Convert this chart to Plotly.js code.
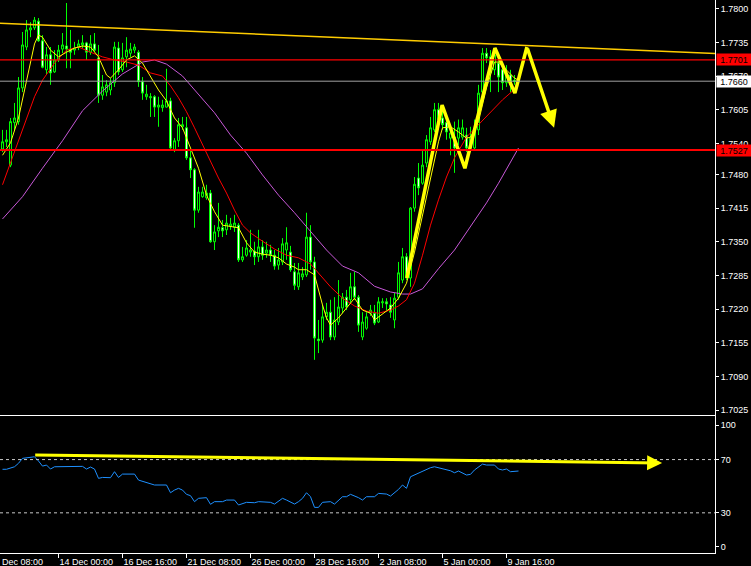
<!DOCTYPE html>
<html>
<head>
<meta charset="utf-8">
<script src="https://cdn.plot.ly/plotly-3.0.1.min.js"></script>
<style>html,body{margin:0;padding:0;background:#000;}#chart{width:751px;height:566px;}</style>
</head>
<body>
<div id="chart"></div>
<script>
// ---- H4 candles (bar index = position of the bar on the chart) ----
const open = [1.7529,1.7543,1.7498,1.7580,1.7582,1.7647,1.7726,1.7759,1.7763,1.7776,
1.7738,1.7682,1.7711,1.7678,1.7701,1.7722,1.7728,1.7722,1.7720,1.7726,
1.7730,1.7734,1.7716,1.7732,1.7705,1.7633,1.7639,1.7643,1.7657,1.7724,
1.7682,1.7707,1.7714,1.7720,1.7716,1.7659,1.7630,1.7628,1.7630,1.7610,
1.7609,1.7610,1.7622,1.7527,1.7545,1.7572,1.7570,1.7512,1.7489,1.7411,
1.7437,1.7435,1.7444,1.7350,1.7371,1.7377,1.7373,1.7380,1.7378,1.7382,
1.7315,1.7324,1.7330,1.7332,1.7321,1.7340,1.7328,1.7334,1.7324,1.7305,
1.7311,1.7334,1.7330,1.7292,1.7263,1.7282,1.7286,1.7359,1.7311,1.7162,
1.7160,1.7205,1.7214,1.7166,1.7195,1.7222,1.7243,1.7238,1.7263,1.7243,
1.7166,1.7183,1.7212,1.7212,1.7195,1.7232,1.7234,1.7228,1.7199,1.7243,
1.7276,1.7321,1.7280,1.7415,1.7473,1.7463,1.7502,1.7543,1.7566,1.7605,
1.7589,1.7580,1.7550,1.7552,1.7550,1.7552,1.7556,1.7531,1.7531,1.7566,
1.7639,1.7714,1.7707,1.7682,1.7695,1.7682,1.7657,1.7672,1.7662,1.7659];
const high = [1.7566,1.7566,1.7589,1.7618,1.7668,1.7755,1.7778,1.7774,1.7784,1.7782,
1.7749,1.7726,1.7726,1.7720,1.7730,1.7753,1.7811,1.7759,1.7736,1.7740,
1.7749,1.7736,1.7749,1.7753,1.7730,1.7672,1.7662,1.7666,1.7736,1.7736,
1.7734,1.7745,1.7734,1.7732,1.7720,1.7668,1.7653,1.7637,1.7633,1.7630,
1.7624,1.7684,1.7628,1.7550,1.7589,1.7591,1.7591,1.7527,1.7492,1.7456,
1.7456,1.7460,1.7450,1.7382,1.7425,1.7392,1.7402,1.7396,1.7402,1.7386,
1.7340,1.7353,1.7373,1.7350,1.7373,1.7353,1.7350,1.7344,1.7334,1.7338,
1.7357,1.7378,1.7342,1.7309,1.7309,1.7301,1.7406,1.7382,1.7321,1.7199,
1.7228,1.7232,1.7238,1.7243,1.7276,1.7251,1.7257,1.7290,1.7292,1.7247,
1.7214,1.7214,1.7228,1.7228,1.7243,1.7241,1.7241,1.7243,1.7251,1.7311,
1.7338,1.7328,1.7417,1.7475,1.7502,1.7527,1.7556,1.7591,1.7618,1.7618,
1.7605,1.7589,1.7566,1.7582,1.7586,1.7586,1.7570,1.7572,1.7586,1.7653,
1.7724,1.7724,1.7720,1.7720,1.7707,1.7697,1.7691,1.7682,1.7672,1.7668];
const low = [1.7523,1.7533,1.7494,1.7566,1.7576,1.7639,1.7720,1.7745,1.7759,1.7736,
1.7685,1.7672,1.7653,1.7676,1.7697,1.7714,1.7685,1.7685,1.7711,1.7720,
1.7724,1.7701,1.7711,1.7716,1.7618,1.7624,1.7631,1.7633,1.7649,1.7672,
1.7678,1.7687,1.7707,1.7714,1.7649,1.7624,1.7624,1.7591,1.7591,1.7572,
1.7601,1.7609,1.7527,1.7523,1.7533,1.7566,1.7508,1.7473,1.7377,1.7406,
1.7435,1.7431,1.7348,1.7334,1.7359,1.7359,1.7363,1.7373,1.7369,1.7311,
1.7311,1.7321,1.7321,1.7305,1.7311,1.7315,1.7319,1.7311,1.7296,1.7296,
1.7305,1.7315,1.7292,1.7257,1.7257,1.7276,1.7282,1.7296,1.7122,1.7135,
1.7155,1.7199,1.7160,1.7160,1.7189,1.7212,1.7218,1.7232,1.7238,1.7176,
1.7160,1.7180,1.7207,1.7189,1.7193,1.7222,1.7218,1.7203,1.7183,1.7238,
1.7270,1.7276,1.7263,1.7408,1.7440,1.7460,1.7494,1.7537,1.7562,1.7566,
1.7566,1.7547,1.7517,1.7483,1.7537,1.7547,1.7523,1.7523,1.7527,1.7556,
1.7633,1.7695,1.7639,1.7672,1.7639,1.7643,1.7649,1.7639,1.7653,1.7655];
const close = [1.7543,1.7547,1.7582,1.7589,1.7647,1.7730,1.7759,1.7763,1.7778,1.7738,
1.7687,1.7711,1.7676,1.7701,1.7720,1.7730,1.7722,1.7716,1.7724,1.7732,
1.7734,1.7716,1.7732,1.7720,1.7633,1.7649,1.7653,1.7657,1.7726,1.7678,
1.7705,1.7720,1.7722,1.7726,1.7659,1.7637,1.7635,1.7630,1.7610,1.7614,
1.7614,1.7622,1.7531,1.7545,1.7576,1.7576,1.7512,1.7489,1.7411,1.7446,
1.7446,1.7444,1.7350,1.7369,1.7378,1.7371,1.7386,1.7384,1.7386,1.7315,
1.7321,1.7338,1.7334,1.7321,1.7340,1.7324,1.7334,1.7324,1.7303,1.7315,
1.7346,1.7348,1.7296,1.7266,1.7290,1.7288,1.7359,1.7311,1.7164,1.7159,
1.7205,1.7214,1.7166,1.7199,1.7224,1.7243,1.7224,1.7263,1.7243,1.7189,
1.7195,1.7205,1.7218,1.7193,1.7234,1.7234,1.7230,1.7214,1.7241,1.7290,
1.7321,1.7280,1.7415,1.7461,1.7454,1.7498,1.7547,1.7570,1.7605,1.7586,
1.7576,1.7562,1.7560,1.7531,1.7570,1.7570,1.7531,1.7550,1.7566,1.7637,
1.7714,1.7705,1.7676,1.7711,1.7668,1.7657,1.7672,1.7653,1.7659,1.7660];

// ---- moving averages ----
const fastMaBars = [0,2,4,6,8,9,10,12,14,16,18,20,22,24,26,27,29,31,33,35,37,39,41,43,45,47,49,51,53,55,57,59,61,63,65,67,69,71,73,74,76,78,80,81,82,84,86,88,90,92,93,95,97,99,101,103,105,107,109,110,112,114,116,117,119,121,123,124,126,128,129];
const fastMa = [1.7517,1.7541,1.7589,1.7662,1.7732,1.7749,1.7745,1.7720,1.7707,1.7716,1.7724,1.7728,1.7726,1.7707,1.7672,1.7666,1.7682,1.7701,1.7709,1.7695,1.7668,1.7643,1.7622,1.7589,1.7570,1.7531,1.7492,1.7440,1.7408,1.7382,1.7380,1.7377,1.7348,1.7330,1.7326,1.7324,1.7319,1.7307,1.7301,1.7296,1.7296,1.7286,1.7228,1.7203,1.7189,1.7203,1.7222,1.7241,1.7218,1.7212,1.7199,1.7211,1.7222,1.7241,1.7270,1.7330,1.7402,1.7473,1.7543,1.7570,1.7572,1.7562,1.7550,1.7552,1.7582,1.7647,1.7697,1.7697,1.7682,1.7666,1.7662];
const midMaBars = [0,2,5,8,10,13,16,19,22,25,28,31,34,37,40,42,44,46,48,50,52,54,56,58,60,62,65,68,71,74,77,79,82,85,88,91,94,97,99,101,103,105,107,109,111,113,116,119,122,125,129];
const midMa = [1.7460,1.7502,1.7566,1.7630,1.7662,1.7695,1.7720,1.7726,1.7716,1.7707,1.7701,1.7697,1.7691,1.7676,1.7670,1.7651,1.7628,1.7601,1.7570,1.7537,1.7504,1.7473,1.7444,1.7411,1.7382,1.7367,1.7351,1.7336,1.7324,1.7319,1.7307,1.7290,1.7263,1.7241,1.7226,1.7216,1.7212,1.7218,1.7226,1.7238,1.7270,1.7324,1.7382,1.7431,1.7475,1.7512,1.7552,1.7576,1.7599,1.7624,1.7651];
const slowMaBars = [0,5,10,15,20,25,30,35,38,41,45,49,53,57,61,65,69,73,77,81,85,89,93,97,100,102,105,109,113,117,121,124,129];
const slowMa = [1.7394,1.7437,1.7492,1.7545,1.7603,1.7641,1.7674,1.7697,1.7701,1.7693,1.7670,1.7635,1.7599,1.7556,1.7521,1.7479,1.7440,1.7406,1.7371,1.7334,1.7303,1.7290,1.7264,1.7253,1.7249,1.7249,1.7259,1.7298,1.7334,1.7380,1.7425,1.7463,1.7531];

// ---- RSI subwindow ----
const rsiBars = [0,1,3,4,5,7,8,9,10,11,12,13,16,20,21,22,23,24,25,27,28,29,30,33,34,36,38,41,42,43,44,45,46,47,48,49,51,52,53,55,56,58,59,61,63,64,67,68,70,71,73,74,75,76,77,78,79,80,82,83,85,86,87,89,90,91,93,94,96,97,99,100,101,102,104,105,107,108,110,112,113,114,116,117,118,120,121,123,124,125,126,127,129];
const rsiVals = [62.7,62.7,64.6,67.2,70.9,71.7,72.1,68.9,65.1,65.9,62.9,64.6,64.9,64.9,62.9,64.4,62.9,55.9,56.6,56.4,60.9,56.6,59.1,59.1,54.6,52.6,50.9,50.9,45.1,47.1,48.4,47.1,43.9,42.9,38.4,40.9,41.4,36.4,38.4,38.4,39.6,39.6,35.9,37.9,37.6,38.4,37.9,36.6,40.9,39.6,36.6,38.4,40.9,45.1,42.1,34.1,34.1,37.9,38.4,36.6,42.1,42.1,43.9,41.4,39.6,42.1,42.1,44.6,44.1,42.6,47.6,50.9,48.4,57.1,59.7,61.4,63.9,64.6,62.9,61.6,60.1,61.4,58.4,58.9,62.2,66.6,65.9,65.9,62.9,62.2,62.9,60.9,61.4];
const rsiLevels = [70, 30];
const rsiTickText = ['0','30','70','100'];

// ---- drawn objects ----
const trendBars = [-1, 180];
const trendPrices = [1.7772, 1.7713];
const levelPrices = [1.7701, 1.7660, 1.7527];
const levelLabels = ['1.7701', '1.7660', '1.7527'];
const zigBars = [101.1, 109.9, 115.6, 123.1, 128.1, 131.1];
const zigPrices = [1.7280, 1.7614, 1.7492, 1.7724, 1.7637, 1.7726];
const zigArrowTip = [137.9, 1.7570];
const rsiArrowFrom = [7.8, 73.4];
const rsiArrowTo = [164.9, 67.4];

// ---- axis labels ----
const priceTickText = ['1.7800','1.7735','1.7670','1.7605','1.7540','1.7480','1.7415','1.7350','1.7285','1.7220','1.7155','1.7090','1.7025'];
const timeLabels = ['9 Dec 08:00','14 Dec 00:00','16 Dec 16:00','21 Dec 08:00','26 Dec 00:00','28 Dec 16:00','2 Jan 08:00','5 Jan 00:00','9 Jan 16:00'];
const timeLabelBars = [-2,14,30,46,62,78,94,110,126];

const bars = open.map((_, i) => i);
const FONT = 'Liberation Sans, Arial, sans-serif';

const traces = [
  {type:'candlestick', x:bars, open:open, high:high, low:low, close:close, xaxis:'x', yaxis:'y',
   increasing:{line:{color:'#00ff00', width:1}, fillcolor:'#000000'},
   decreasing:{line:{color:'#00ff00', width:1}, fillcolor:'#ffffff'},
   whiskerwidth:0, hoverinfo:'skip'},
  {type:'scatter', mode:'lines', x:slowMaBars, y:slowMa, line:{color:'#c858d8', width:1}, xaxis:'x', yaxis:'y', hoverinfo:'skip'},
  {type:'scatter', mode:'lines', x:midMaBars, y:midMa, line:{color:'#ff0000', width:1}, xaxis:'x', yaxis:'y', hoverinfo:'skip'},
  {type:'scatter', mode:'lines', x:fastMaBars, y:fastMa, line:{color:'#ffff00', width:1}, xaxis:'x', yaxis:'y', hoverinfo:'skip'},
  {type:'scatter', mode:'lines', x:trendBars, y:trendPrices, line:{color:'#ffcc00', width:1.5}, xaxis:'x', yaxis:'y', hoverinfo:'skip'},
  {type:'scatter', mode:'lines', x:zigBars, y:zigPrices, line:{color:'#ffff00', width:3.5}, xaxis:'x', yaxis:'y', hoverinfo:'skip'},
  {type:'scatter', mode:'lines', x:rsiBars, y:rsiVals, line:{color:'#1e90ff', width:1}, xaxis:'x2', yaxis:'y2', hoverinfo:'skip'}
];

const levelColors = ['#ff0000', '#a0a0a0', '#ff0000'];
const levelWidths = [1.2, 1, 2];
const shapes = [];
levelPrices.forEach((p, i) => shapes.push({type:'line', xref:'x domain', x0:0, x1:1, yref:'y', y0:p, y1:p,
  line:{color:levelColors[i], width:levelWidths[i]}}));
rsiLevels.forEach(v => shapes.push({type:'line', xref:'x2 domain', x0:0, x1:1, yref:'y2', y0:v, y1:v,
  line:{color:'#c8c8c8', width:1, dash:'3px,3px'}}));

const boxBg = ['#ff0000', '#ffffff', '#ff0000'];
const annotations = levelPrices.map((p, i) => ({
  xref:'paper', x:1, xanchor:'left', xshift:1, yref:'y', y:p, yanchor:'middle',
  text:levelLabels[i], showarrow:false, bgcolor:boxBg[i], width:34, height:11, borderpad:0,
  font:{family:FONT, size:9, color:'#000000'}
}));
annotations.push({xref:'x', yref:'y', x:zigArrowTip[0], y:zigArrowTip[1], axref:'x', ayref:'y',
  ax:zigBars[zigBars.length-1], ay:zigPrices[zigPrices.length-1], text:'', showarrow:true,
  arrowhead:2, arrowsize:1, arrowwidth:3.5, arrowcolor:'#ffff00', standoff:0, startstandoff:0});
annotations.push({xref:'x2', yref:'y2', x:rsiArrowTo[0], y:rsiArrowTo[1], axref:'x2', ayref:'y2',
  ax:rsiArrowFrom[0], ay:rsiArrowFrom[1], text:'', showarrow:true,
  arrowhead:2, arrowsize:1, arrowwidth:3, arrowcolor:'#ffff00', standoff:0, startstandoff:0});
annotations.push({xref:'paper', x:0, xanchor:'left', yref:'paper', y:0, yanchor:'top', yshift:-2,
  text:timeLabels[0].replace(/^\d+ /, ''), showarrow:false, font:{family:FONT, size:9, color:'#ffffff'}});

const layout = {
  width:751, height:566,
  paper_bgcolor:'#000000', plot_bgcolor:'#000000',
  margin:{l:0, r:36, t:0, b:13},
  showlegend:false,
  font:{family:FONT, size:9, color:'#ffffff'},
  xaxis:{domain:[0,1], anchor:'y', range:[-0.625, 178.125], showgrid:false, zeroline:false,
    showticklabels:false, ticks:'', showline:true, linecolor:'#ffffff', linewidth:1,
    rangeslider:{visible:false}, fixedrange:true},
  yaxis:{domain:[0.2495,1], anchor:'x', side:'right', range:[1.70154, 1.78168], showgrid:false, zeroline:false,
    showline:true, linecolor:'#ffffff', linewidth:1, ticks:'outside', ticklen:3, tickcolor:'#ffffff',
    tickvals:priceTickText.map(Number), ticktext:priceTickText, tickfont:{family:FONT, size:9, color:'#ffffff'}},
  xaxis2:{domain:[0,1], anchor:'y2', range:[-0.625, 178.125], showgrid:false, zeroline:false,
    showline:true, mirror:true, linecolor:'#ffffff', linewidth:1, ticks:'outside', ticklen:4, tickcolor:'#ffffff',
    tickvals:timeLabelBars, ticktext:timeLabels, ticklabelposition:'outside right',
    tickfont:{family:FONT, size:9, color:'#ffffff'}, fixedrange:true},
  yaxis2:{domain:[0,0.2477], anchor:'x2', side:'right', range:[-0.15, 102.7], showgrid:false, zeroline:false,
    showline:true, linecolor:'#ffffff', linewidth:1, ticks:'outside', ticklen:3, tickcolor:'#ffffff',
    tickvals:[4.4, 30, 70, 95.9], ticktext:rsiTickText, tickfont:{family:FONT, size:9, color:'#ffffff'}},
  shapes:shapes,
  annotations:annotations
};

Plotly.newPlot('chart', traces, layout, {staticPlot:true, displayModeBar:false});
</script>
</body>
</html>
